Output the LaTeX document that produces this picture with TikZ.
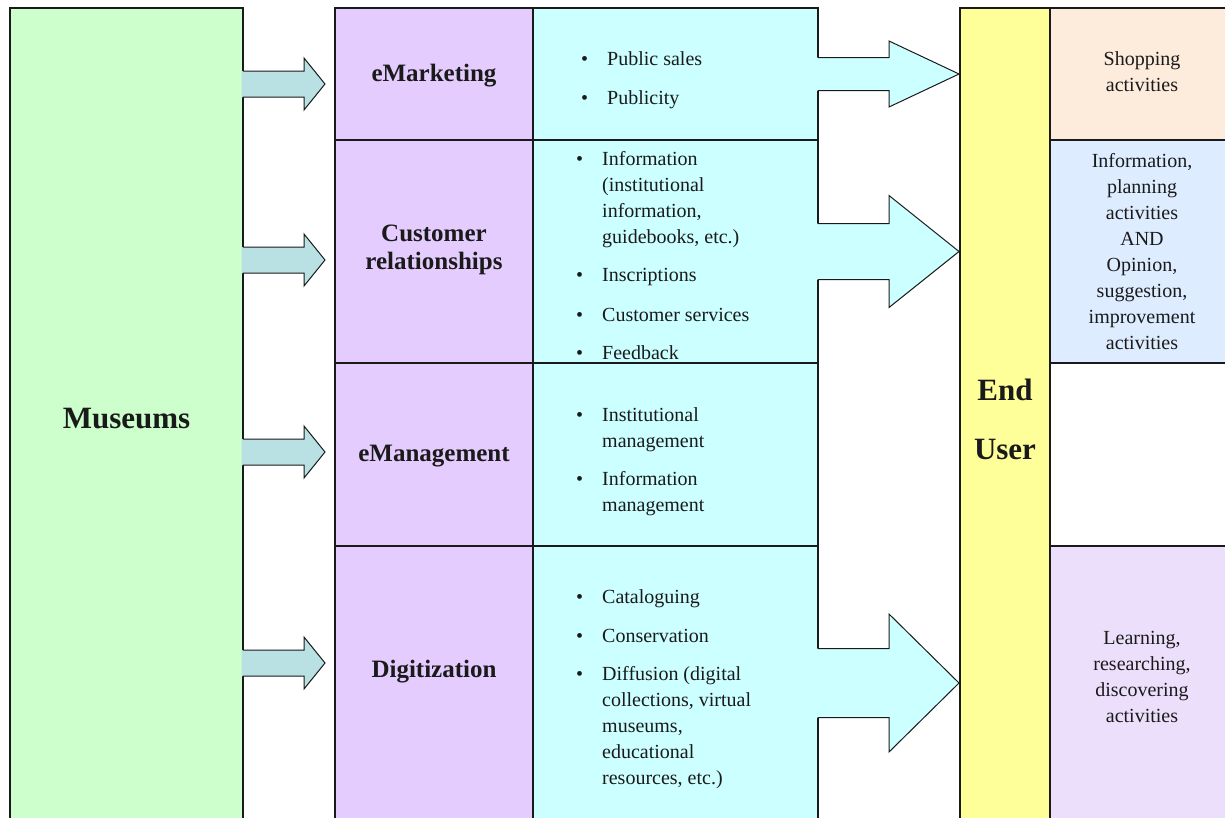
\documentclass[tikz,border=0pt]{standalone}
\usepackage{fontspec}
\setmainfont{Liberation Serif}
\usetikzlibrary{calc}

\definecolor{edge}{HTML}{1A1A1A}
\definecolor{ink}{HTML}{1A1A1A}
\definecolor{museumgreen}{HTML}{CCFFCC}
\definecolor{servicepurple}{HTML}{E5CCFF}
\definecolor{detailcyan}{HTML}{CCFFFF}
\definecolor{useryellow}{HTML}{FFFF99}
\definecolor{shoppeach}{HTML}{FDEBDB}
\definecolor{infoblue}{HTML}{DDEDFF}
\definecolor{learnlilac}{HTML}{ECDFFB}
\definecolor{linkteal}{HTML}{B9E0E3}

% bullet followed by the indent of the item text
\newcommand\bu{\makebox[26pt][l]{\textbullet}}

% block arrow: from node, to node, centre y, shaft half height,
% head half height, head length, gap before target, fill colour
\newcommand\blockarrow[8]{%
  \coordinate (ba-s) at (#1.east |- 0,#3);
  \coordinate (ba-t) at ($(#2.west |- 0,#3)+(-#7,0)$);
  \fill[#8] ($(ba-s)+(-1.5,-#4)$) -- ($(ba-t)+(-#6,-#4)$) -- ($(ba-t)+(-#6,-#5)$)
     -- (ba-t) -- ($(ba-t)+(-#6,#5)$) -- ($(ba-t)+(-#6,#4)$) -- ($(ba-s)+(-1.5,#4)$) -- cycle;
  \draw[arrowline] ($(ba-s)+(0,-#4)$) -- ($(ba-t)+(-#6,-#4)$) -- ($(ba-t)+(-#6,-#5)$)
     -- (ba-t) -- ($(ba-t)+(-#6,#5)$) -- ($(ba-t)+(-#6,#4)$) -- ($(ba-s)+(0,#4)$);
}

\begin{document}
\begin{tikzpicture}[x=1pt,y=-1pt,
  cell/.style={draw=edge, line width=1.2pt, inner sep=0pt, outer sep=0pt, anchor=north west},
  arrowline/.style={draw=edge, line width=1pt, line join=miter},
  body/.style={font=\fontsize{20}{26}\selectfont, inner sep=0pt, text=ink},
  head/.style={font=\fontsize{25}{28}\selectfont\bfseries, inner sep=0pt, text=ink},
  big/.style={font=\fontsize{31}{26}\selectfont\bfseries, inner sep=0pt, text=ink}]
\useasboundingbox (0,0) rectangle (1225,817);
\begin{scope}
\clip (0,0) rectangle (1225,817);

% left column
\node[cell, fill=museumgreen, minimum width=233pt, minimum height=830pt] (mus) at (10,8) {};

% service column
\node[cell, fill=servicepurple, minimum width=198pt, minimum height=132pt] (pu1) at (335,8) {};
\node[cell, fill=servicepurple, minimum width=198pt, minimum height=223pt] (pu2) at (335,140) {};
\node[cell, fill=servicepurple, minimum width=198pt, minimum height=183pt] (pu3) at (335,363) {};
\node[cell, fill=servicepurple, minimum width=198pt, minimum height=284pt] (pu4) at (335,546) {};

% detail column
\node[cell, fill=detailcyan, minimum width=285pt, minimum height=132pt] (cy1) at (533,8) {};
\node[cell, fill=detailcyan, minimum width=285pt, minimum height=223pt] (cy2) at (533,140) {};
\node[cell, fill=detailcyan, minimum width=285pt, minimum height=183pt] (cy3) at (533,363) {};
\node[cell, fill=detailcyan, minimum width=285pt, minimum height=284pt] (cy4) at (533,546) {};

% end user column
\node[cell, fill=useryellow, minimum width=90pt, minimum height=830pt] (user) at (960,8) {};

% activity column
\node[cell, fill=shoppeach, minimum width=184pt, minimum height=132pt] (ac1) at (1050,8) {};
\node[cell, fill=infoblue, minimum width=184pt, minimum height=223pt] (ac2) at (1050,140) {};
\node[cell, fill=learnlilac, minimum width=184pt, minimum height=284pt] (ac4) at (1050,546) {};

% arrows from the museums to the services
\blockarrow{mus}{pu1}{84}{13}{26}{21}{10}{linkteal}
\blockarrow{mus}{pu2}{260}{13}{26}{21}{10}{linkteal}
\blockarrow{mus}{pu3}{452}{13}{26}{21}{10}{linkteal}
\blockarrow{mus}{pu4}{663}{13}{26}{21}{10}{linkteal}

% arrows from the services to the end user
\blockarrow{cy1}{user}{74}{16.5}{33}{70}{1}{detailcyan}
\blockarrow{cy2}{user}{251.5}{28}{56}{70}{1}{detailcyan}
\blockarrow{cy4}{user}{683}{34.5}{69}{70}{1}{detailcyan}

% headings
\node[big, anchor=base] (musl) at (126.5,428) {Museums};
\node[head, anchor=base] (h1) at (434,81) {eMarketing};
\node[head, anchor=base] (h2) at (434,241) {\begin{tabular}[t]{@{}c@{}}Customer\\relationships\end{tabular}};
\node[head, anchor=base] (h3) at (434,461) {eManagement};
\node[head, anchor=base] (h4) at (434,677) {Digitization};
\node[big, anchor=base] (userl) at (1005,400) {\begin{tabular}[t]{@{}c@{}}End\\[31pt]User\end{tabular}};

% service details
\node[body, anchor=base west] (d1) at (581,65) {\begin{tabular}[t]{@{}l@{}l@{}}
  \bu & Public sales\\[13pt]
  \bu & Publicity
\end{tabular}};
\node[body, anchor=base west] (d2) at (576,165) {\begin{tabular}[t]{@{}l@{}l@{}}
  \bu & Information\\
      & (institutional\\
      & information,\\
      & guidebooks, etc.)\\[12pt]
  \bu & Inscriptions\\[14pt]
  \bu & Customer services\\[12pt]
  \bu & Feedback
\end{tabular}};
\node[body, anchor=base west] (d3) at (576,421) {\begin{tabular}[t]{@{}l@{}l@{}}
  \bu & Institutional\\
      & management\\[12pt]
  \bu & Information\\
      & management
\end{tabular}};
\node[body, anchor=base west] (d4) at (576,603) {\begin{tabular}[t]{@{}l@{}l@{}}
  \bu & Cataloguing\\[13pt]
  \bu & Conservation\\[12pt]
  \bu & Diffusion (digital\\
      & collections, virtual\\
      & museums,\\
      & educational\\
      & resources, etc.)
\end{tabular}};

% activities
\node[body, anchor=base] (a1) at (1142,65) {\begin{tabular}[t]{@{}c@{}}Shopping\\activities\end{tabular}};
\node[body, anchor=base] (a2) at (1142,167) {\begin{tabular}[t]{@{}c@{}}Information,\\planning\\activities\\AND\\Opinion,\\suggestion,\\improvement\\activities\end{tabular}};
\node[body, anchor=base] (a4) at (1142,644) {\begin{tabular}[t]{@{}c@{}}Learning,\\researching,\\discovering\\activities\end{tabular}};
\end{scope}
\end{tikzpicture}
\end{document}
